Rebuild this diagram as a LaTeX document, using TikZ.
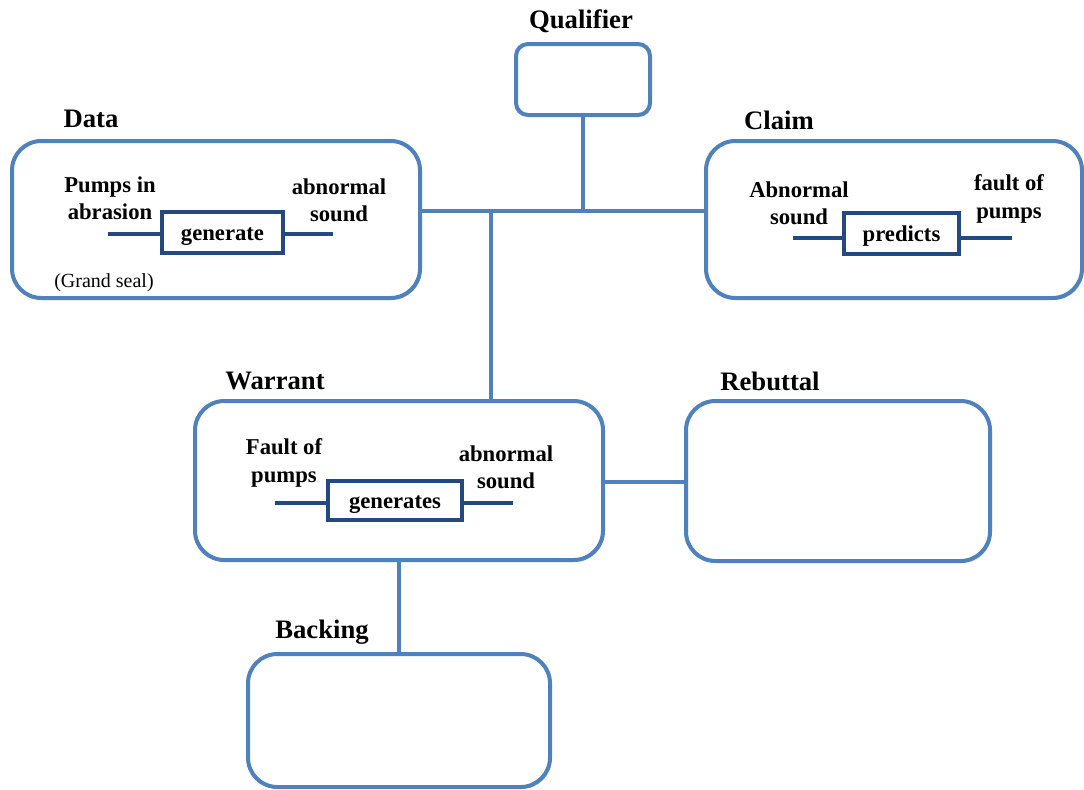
\documentclass[tikz,border=0pt]{standalone}
\usepackage{fontspec}
\setmainfont{Liberation Serif}
\usetikzlibrary{shadows}
\definecolor{outerblue}{HTML}{4F81BD}
\definecolor{innerblue}{HTML}{24497E}
\tikzset{
  obox/.style={draw=outerblue, line width=3pt, rounded corners=22pt, fill=white,
    drop shadow={opacity=0.25, shadow xshift=1.2pt, shadow yshift=-1.5pt}},
  ibox/.style={draw=innerblue, line width=3pt, fill=white, inner sep=0pt,
    text height=14pt, text depth=2pt,
    minimum height=31pt, font=\bfseries\fontsize{17}{20}\selectfont,
    drop shadow={opacity=0.25, shadow xshift=1pt, shadow yshift=-1pt}},
  iline/.style={draw=innerblue, line width=3pt},
  conn/.style={draw=outerblue, line width=3pt},
  title/.style={font=\bfseries\fontsize{20}{24}\selectfont, inner sep=0pt},
  itext/.style={font=\bfseries\fontsize{17}{20.5}\selectfont, align=center, inner sep=0pt},
}
\begin{document}
\begin{tikzpicture}[x=0.75pt, y=-0.75pt]
\useasboundingbox (0,0) rectangle (1084,789);
% outer boxes
\node[obox, rounded corners=9pt, minimum width=100.5pt, minimum height=53.25pt] (qual) at (583,79.5) {};
\node[obox, minimum width=306pt, minimum height=117.75pt] (data) at (216,219.5) {};
\node[obox, minimum width=282pt, minimum height=117.75pt] (claim) at (894,219.5) {};
\node[obox, minimum width=306pt, minimum height=119.25pt] (warrant) at (399,480.5) {};
\node[obox, minimum width=228pt, minimum height=120pt] (rebuttal) at (838,481) {};
\node[obox, minimum width=226.5pt, minimum height=99.75pt] (backing) at (399,720.5) {};
% titles
\node[title] (tqual) at (581,21) {Qualifier};
\node[title] (tdata) at (91,119) {Data};
\node[title] (tclaim) at (779,120) {Claim};
\node[title] (twarrant) at (275,381) {Warrant};
\node[title] (trebuttal) at (770,381) {Rebuttal};
\node[title] (tbacking) at (322,632) {Backing};
% connectors
\coordinate (J) at (491,211);
\coordinate (Q) at (583,211);
\coordinate (R) at (645,482);
\draw[conn] (data.east |- J) -- (claim.west |- J);
\draw[conn] (qual.south) -- (Q);
\draw[conn] (J) -- (J |- warrant.north);
\draw[conn] (warrant.east |- R) -- (rebuttal.west |- R);
\draw[conn] (warrant.south) -- (warrant.south |- backing.north);
% Data contents
\coordinate (dl) at (108,234);
\coordinate (dr) at (333,234);
\node[ibox, minimum width=90.75pt] (dgen) at (222.5,232.5) {generate};
\draw[iline] (dl) -- (dgen.west |- dl);
\draw[iline] (dgen.east |- dr) -- (dr);
\node[itext] (dt1) at (110,198) {Pumps in\\abrasion};
\node[itext] (dt2) at (339,200) {abnormal\\sound};
\node[font=\fontsize{15}{18}\selectfont, inner sep=0pt] (dseal) at (104,283) {(Grand seal)};
% Claim contents
\coordinate (cl) at (793,238);
\coordinate (cr) at (1012,238);
\node[ibox, minimum width=86.25pt] (cpred) at (901.5,233.5) {predicts};
\draw[iline] (cl) -- (cpred.west |- cl);
\draw[iline] (cpred.east |- cr) -- (cr);
\node[itext] (ct1) at (799,203) {Abnormal\\sound};
\node[itext] (ct2) at (1009,199) {fault of\\pumps};
% Warrant contents
\coordinate (wl) at (275,503);
\coordinate (wr) at (513,503);
\node[ibox, minimum width=100.5pt, minimum height=29.25pt] (wgen) at (395,500.5) {generates};
\draw[iline] (wl) -- (wgen.west |- wl);
\draw[iline] (wgen.east |- wr) -- (wr);
\node[itext] (wt1) at (284,463) {Fault of\\pumps};
\node[itext] (wt2) at (506,467) {abnormal\\sound};
\end{tikzpicture}
\end{document}
